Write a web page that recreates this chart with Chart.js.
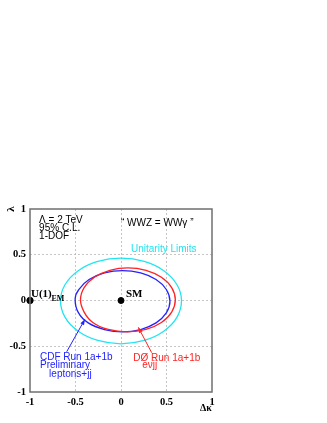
<!DOCTYPE html>
<html>
<head>
<meta charset="utf-8">
<script src="https://cdn.jsdelivr.net/npm/chart.js@4.4.0/dist/chart.umd.min.js"></script>
<style>
  html, body { margin: 0; padding: 0; background: #fff; }
  #wrap { width: 327px; height: 423px; }
</style>
</head>
<body>
<div id="wrap"><canvas id="chart" width="327" height="423"></canvas></div>
<script>
// contours (Δκ, λ)
const unitK = [0.665, 0.614, 0.47, 0.255, 0, -0.255, -0.47, -0.614, -0.665, -0.614, -0.47, -0.255, 0, 0.255, 0.47, 0.614];
const unitL = [0, 0.175, 0.326, 0.427, 0.463, 0.427, 0.326, 0.175, 0, -0.185, -0.336, -0.437, -0.473, -0.437, -0.336, -0.185];

const d0K = [0.597, 0.557, 0.444, 0.275, 0.076, -0.123, -0.292, -0.405, -0.445, -0.405, -0.31, -0.14, 0.07, 0.275, 0.444, 0.557];
const d0L = [0.007, 0.141, 0.254, 0.33, 0.357, 0.33, 0.254, 0.141, 0.007, -0.127, -0.24, -0.316, -0.343, -0.316, -0.24, -0.127];

const cdfK = [0.538, 0.498, 0.385, 0.216, 0.017, -0.182, -0.351, -0.464, -0.504, -0.47, -0.36, -0.182, 0.017, 0.216, 0.385, 0.498];
const cdfL = [-0.008, 0.12, 0.229, 0.301, 0.327, 0.301, 0.229, 0.12, 0.02, -0.13, -0.245, -0.317, -0.343, -0.317, -0.245, -0.136];

const smPoint = [{ x: 0, y: 0 }];
const u1Point = [{ x: -1, y: 0 }];

const axisTicks = [-1, -0.5, 0, 0.5, 1];

// wrap the contour so the spline closes smoothly; the two extra segments are hidden
const closed = (ks, ls) => {
  const pts = ks.map((k, i) => ({ x: k, y: ls[i] }));
  return [pts[pts.length - 1], ...pts, pts[0], pts[1]];
};

const contour = (ks, ls, colour) => {
  const data = closed(ks, ls);
  const last = data.length - 1;
  return {
    data,
    showLine: true,
    borderColor: colour,
    borderWidth: 1.3,
    pointRadius: 0,
    tension: 0.4,
    fill: false,
    segment: {
      borderColor: c => (c.p0DataIndex === 0 || c.p1DataIndex === last) ? 'rgba(0,0,0,0)' : undefined
    }
  };
};

const sans = 'Liberation Sans, Arial, sans-serif';
const serif = 'Liberation Serif, Times New Roman, serif';

const annotations = {
  id: 'annotations',
  afterDraw(chart) {
    const { ctx, chartArea: a, scales: { x, y } } = chart;
    const px = v => x.getPixelForValue(v);
    const py = v => y.getPixelForValue(v);

    // frame
    ctx.save();
    ctx.strokeStyle = '#6f6f6f';
    ctx.lineWidth = 1.5;
    ctx.strokeRect(a.left, a.top, a.right - a.left, a.bottom - a.top);
    ctx.restore();

    const text = (s, kx, ly, font, colour) => {
      ctx.font = font;
      ctx.fillStyle = colour;
      ctx.textAlign = 'left';
      ctx.textBaseline = 'alphabetic';
      ctx.fillText(s, px(kx), py(ly));
    };

    ctx.save();
    text('\u039B = 2 TeV', -0.9, 0.847, '10px ' + sans, '#000');
    text('95% C.L.', -0.9, 0.76, '10px ' + sans, '#000');
    text('1-DOF', -0.9, 0.673, '10px ' + sans, '#000');
    text('\u201C WWZ = WW\u03B3 \u201D', 0.0, 0.81, '10px ' + sans, '#000');
    text('Unitarity Limits', 0.11, 0.53, '10px ' + sans, '#22e4f0');
    text('SM', 0.055, 0.038, 'bold 11px ' + serif, '#000');
    text('U(1)', -0.989, 0.033, 'bold 11px ' + serif, '#000');
    text('EM', -0.765, 0.0, 'bold 8px ' + serif, '#000');
    text('CDF Run 1a+1b', -0.89, -0.65, '10px ' + sans, '#2222ff');
    text('Preliminary', -0.89, -0.74, '10px ' + sans, '#2222ff');
    text('leptons+jj', -0.79, -0.84, '10px ' + sans, '#2222ff');
    text('D\u00D8 Run 1a+1b', 0.135, -0.656, '10px ' + sans, '#ff2222');
    text('e\u03BDjj', 0.234, -0.738, '10px ' + sans, '#ff2222');
    text('\u0394\u03BA', 0.868, -1.208, 'bold 10px ' + serif, '#000');

    // λ axis title, rotated, beside the top tick label
    ctx.translate(11, py(1.0));
    ctx.rotate(-Math.PI / 2);
    ctx.font = 'bold 11px ' + serif;
    ctx.fillStyle = '#000';
    ctx.textAlign = 'center';
    ctx.textBaseline = 'middle';
    ctx.fillText('\u03BB', 0, 0);
    ctx.restore();

    const arrow = (k0, l0, k1, l1, colour) => {
      const x0 = px(k0), y0 = py(l0), x1 = px(k1), y1 = py(l1);
      const ang = Math.atan2(y1 - y0, x1 - x0);
      ctx.save();
      ctx.strokeStyle = colour;
      ctx.fillStyle = colour;
      ctx.lineWidth = 1;
      ctx.beginPath();
      ctx.moveTo(x0, y0);
      ctx.lineTo(x1, y1);
      ctx.stroke();
      ctx.beginPath();
      ctx.moveTo(x1, y1);
      ctx.lineTo(x1 - 6 * Math.cos(ang - 0.35), y1 - 6 * Math.sin(ang - 0.35));
      ctx.lineTo(x1 - 6 * Math.cos(ang + 0.35), y1 - 6 * Math.sin(ang + 0.35));
      ctx.closePath();
      ctx.fill();
      ctx.restore();
    };
    arrow(-0.597, -0.56, -0.396, -0.205, '#2222ff');
    arrow(0.337, -0.57, 0.19, -0.293, '#ff2222');
  }
};

const gridColour = c => (Math.abs(c.tick.value) === 1 ? 'rgba(0,0,0,0)' : '#b8b8b8');
const tickLabel = v => String(v);

new Chart(document.getElementById('chart'), {
  type: 'scatter',
  data: {
    datasets: [
      contour(unitK, unitL, '#22e4f0'),
      contour(d0K, d0L, '#ff2222'),
      contour(cdfK, cdfL, '#2222ff'),
      { data: smPoint, pointRadius: 3, backgroundColor: '#000', borderColor: '#000', clip: false },
      { data: u1Point, pointRadius: 3.2, backgroundColor: '#000', borderColor: '#000', clip: false }
    ]
  },
  options: {
    responsive: false,
    animation: false,
    events: [],
    layout: { padding: { top: 209, right: 115, left: 0, bottom: 0 } },
    plugins: { legend: { display: false }, tooltip: { enabled: false } },
    scales: {
      x: {
        type: 'linear',
        min: -1,
        max: 1,
        afterFit: s => { s.height = 31; },
        afterBuildTicks: s => { s.ticks = axisTicks.map(v => ({ value: v })); },
        border: { display: false, dash: [2, 2] },
        grid: { color: gridColour, lineWidth: 0.8, tickLength: 0, drawTicks: false },
        ticks: { padding: 4, color: '#000', callback: tickLabel, font: { family: serif, size: 10.5, weight: 'bold' } }
      },
      y: {
        type: 'linear',
        min: -1,
        max: 1,
        afterFit: s => { s.width = 30; },
        afterBuildTicks: s => { s.ticks = axisTicks.map(v => ({ value: v })); },
        border: { display: false, dash: [2, 2] },
        grid: { color: gridColour, lineWidth: 0.8, tickLength: 0, drawTicks: false },
        ticks: { padding: 4, color: '#000', callback: tickLabel, font: { family: serif, size: 10.5, weight: 'bold' } }
      }
    }
  },
  plugins: [annotations]
});
</script>
</body>
</html>
